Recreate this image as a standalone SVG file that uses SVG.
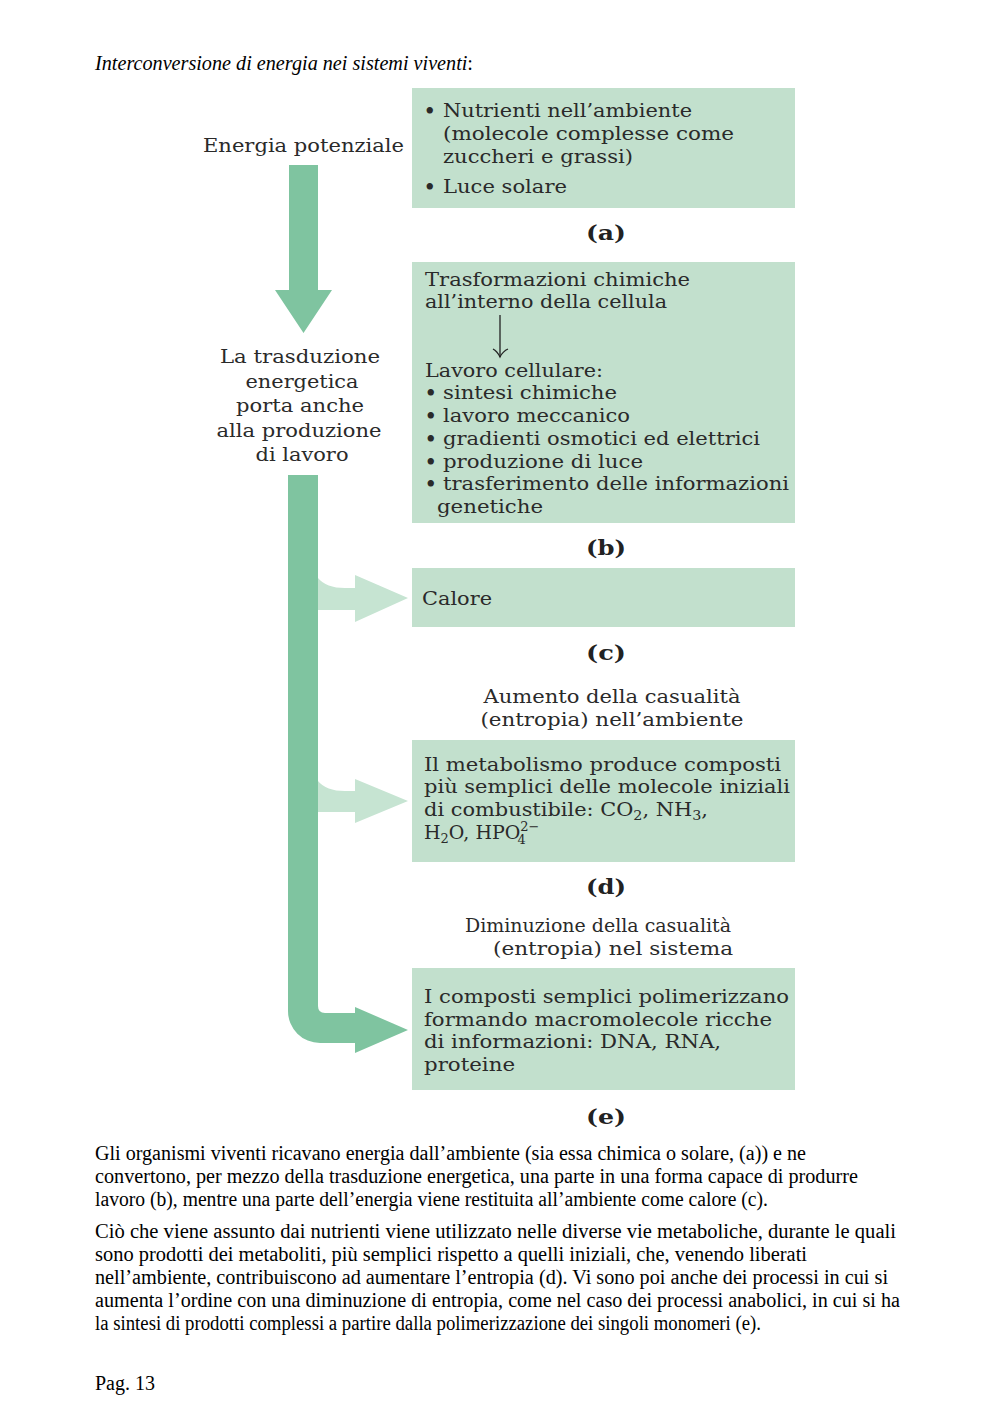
<svg xmlns="http://www.w3.org/2000/svg" width="1000" height="1415" viewBox="0 0 1000 1415">
<style>
.box{fill:#c2e0cd}
.dark{fill:#7fc4a0}
.light{fill:#c6e4d2}
.fig{font-family:"DejaVu Serif","Liberation Serif",serif;font-size:19px;fill:#2a2a2a}
.bul{font-family:"DejaVu Serif","Liberation Serif",serif;font-size:18px;font-weight:bold;fill:#2a2a2a}
.lab{font-family:"DejaVu Serif","Liberation Serif",serif;font-size:21px;font-weight:bold;fill:#222;text-anchor:middle}
.mid{text-anchor:middle}
.body{font-family:"Liberation Serif","Times New Roman",serif;font-size:20px;fill:#000}
</style>
<rect width="1000" height="1415" fill="#fff"/>

<text class="body" x="95" y="70" textLength="378" lengthAdjust="spacingAndGlyphs"><tspan font-style="italic">Interconversione di energia nei sistemi viventi</tspan>:</text>

<g id="energia-potenziale">
<text class="fig" x="203" y="152" textLength="201" lengthAdjust="spacingAndGlyphs">Energia potenziale</text>
</g>

<g id="trasduzione">
<text class="fig mid" x="300" y="363" textLength="160" lengthAdjust="spacingAndGlyphs">La trasduzione</text>
<text class="fig mid" x="302" y="388" textLength="113" lengthAdjust="spacingAndGlyphs">energetica</text>
<text class="fig mid" x="300" y="412" textLength="128" lengthAdjust="spacingAndGlyphs">porta anche</text>
<text class="fig mid" x="299" y="437" textLength="165" lengthAdjust="spacingAndGlyphs">alla produzione</text>
<text class="fig mid" x="302" y="461" textLength="93" lengthAdjust="spacingAndGlyphs">di lavoro</text>
</g>

<g id="node-a">
<rect class="box" x="412" y="88" width="383" height="120"/>
<text class="bul" x="424" y="117">•</text>
<text class="fig" x="443" y="117" textLength="249" lengthAdjust="spacingAndGlyphs">Nutrienti nell’ambiente</text>
<text class="fig" x="443" y="140" textLength="291" lengthAdjust="spacingAndGlyphs">(molecole complesse come</text>
<text class="fig" x="443" y="163" textLength="190" lengthAdjust="spacingAndGlyphs">zuccheri e grassi)</text>
<text class="bul" x="424" y="193">•</text>
<text class="fig" x="443" y="193" textLength="124" lengthAdjust="spacingAndGlyphs">Luce solare</text>
<text class="lab" x="606" y="240" textLength="40" lengthAdjust="spacingAndGlyphs">(a)</text>
</g>

<g id="node-b">
<rect class="box" x="412" y="262" width="383" height="261"/>
<text class="fig" x="425" y="286" textLength="265" lengthAdjust="spacingAndGlyphs">Trasformazioni chimiche</text>
<text class="fig" x="425" y="308" textLength="242" lengthAdjust="spacingAndGlyphs">all’interno della cellula</text>
<text class="fig" x="425" y="377" textLength="178" lengthAdjust="spacingAndGlyphs">Lavoro cellulare:</text>
<text class="bul" x="425" y="399">•</text>
<text class="fig" x="443" y="399" textLength="174" lengthAdjust="spacingAndGlyphs">sintesi chimiche</text>
<text class="bul" x="425" y="422">•</text>
<text class="fig" x="443" y="422" textLength="187" lengthAdjust="spacingAndGlyphs">lavoro meccanico</text>
<text class="bul" x="425" y="445">•</text>
<text class="fig" x="443" y="445" textLength="317" lengthAdjust="spacingAndGlyphs">gradienti osmotici ed elettrici</text>
<text class="bul" x="425" y="468">•</text>
<text class="fig" x="443" y="468" textLength="200" lengthAdjust="spacingAndGlyphs">produzione di luce</text>
<text class="bul" x="425" y="490">•</text>
<text class="fig" x="443" y="490" textLength="346" lengthAdjust="spacingAndGlyphs">trasferimento delle informazioni</text>
<text class="fig" x="437" y="513" textLength="106" lengthAdjust="spacingAndGlyphs">genetiche</text>
<text class="lab" x="606" y="555" textLength="40" lengthAdjust="spacingAndGlyphs">(b)</text>
</g>

<g id="node-c">
<rect class="box" x="412" y="568" width="383" height="59"/>
<text class="fig" x="422" y="605" textLength="70" lengthAdjust="spacingAndGlyphs">Calore</text>
<text class="lab" x="606" y="660" textLength="40" lengthAdjust="spacingAndGlyphs">(c)</text>
<text class="fig mid" x="612" y="703" textLength="257" lengthAdjust="spacingAndGlyphs">Aumento della casualità</text>
<text class="fig mid" x="612" y="726" textLength="263" lengthAdjust="spacingAndGlyphs">(entropia) nell’ambiente</text>
</g>

<g id="node-d">
<rect class="box" x="412" y="740" width="383" height="122"/>
<text class="fig" x="424" y="771" textLength="357" lengthAdjust="spacingAndGlyphs">Il metabolismo produce composti</text>
<text class="fig" x="424" y="793" textLength="366" lengthAdjust="spacingAndGlyphs">più semplici delle molecole iniziali</text>
<text class="fig" x="424" y="816" textLength="284" lengthAdjust="spacingAndGlyphs">di combustibile: CO<tspan font-size="13" dy="4">2</tspan><tspan dy="-4">, NH</tspan><tspan font-size="13" dy="4">3</tspan><tspan dy="-4">,</tspan></text>
<text class="fig" x="424" y="839">H<tspan font-size="13" dy="4">2</tspan><tspan dy="-4">O, HPO</tspan><tspan font-size="13" dy="-8">2−</tspan><tspan font-size="13" dx="-22" dy="13">4</tspan></text>
<text class="lab" x="606" y="894" textLength="40" lengthAdjust="spacingAndGlyphs">(d)</text>
<text class="fig mid" x="598" y="932" textLength="266" lengthAdjust="spacingAndGlyphs">Diminuzione della casualità</text>
<text class="fig mid" x="613" y="955" textLength="240" lengthAdjust="spacingAndGlyphs">(entropia) nel sistema</text>
</g>

<g id="node-e">
<rect class="box" x="412" y="968" width="383" height="122"/>
<text class="fig" x="424" y="1003" textLength="365" lengthAdjust="spacingAndGlyphs">I composti semplici polimerizzano</text>
<text class="fig" x="424" y="1026" textLength="348" lengthAdjust="spacingAndGlyphs">formando macromolecole ricche</text>
<text class="fig" x="424" y="1048" textLength="297" lengthAdjust="spacingAndGlyphs">di informazioni: DNA, RNA,</text>
<text class="fig" x="424" y="1071" textLength="91" lengthAdjust="spacingAndGlyphs">proteine</text>
<text class="lab" x="606" y="1124" textLength="40" lengthAdjust="spacingAndGlyphs">(e)</text>
</g>

<g id="connectors">
<path class="dark" d="M289,165 H318 V290 H332 L303.5,333 L275,290 H289 Z"/>
<path class="dark" d="M288,475 H318 V1006 Q318,1013 325,1013 H355 V1007 L408,1030 L355,1053 V1043 H320 A32,32 0 0 1 288,1011 Z"/>
<path class="light" d="M318,578 Q326,588 345,588 H355 V575 L408,598 L355,622 V610 H318 Z"/>
<path class="light" d="M318,781 Q326,791 345,791 H355 V779 L408,801 L355,823 V812 H318 Z"/>
<path d="M500,315 V357" fill="none" stroke="#222" stroke-width="1.3"/>
<path d="M493,349 Q497,351 500,357 Q503,351 508,349" fill="none" stroke="#222" stroke-width="1.3"/>
</g>

<g id="paragraphs">
<text class="body" x="95" y="1160" textLength="711" lengthAdjust="spacingAndGlyphs">Gli organismi viventi ricavano energia dall’ambiente (sia essa chimica o solare, (a)) e ne</text>
<text class="body" x="95" y="1183" textLength="763" lengthAdjust="spacingAndGlyphs">convertono, per mezzo della trasduzione energetica, una parte in una forma capace di produrre</text>
<text class="body" x="95" y="1206" textLength="673" lengthAdjust="spacingAndGlyphs">lavoro (b), mentre una parte dell’energia viene restituita all’ambiente come calore (c).</text>
<text class="body" x="95" y="1238" textLength="801" lengthAdjust="spacingAndGlyphs">Ciò che viene assunto dai nutrienti viene utilizzato nelle diverse vie metaboliche, durante le quali</text>
<text class="body" x="95" y="1261" textLength="712" lengthAdjust="spacingAndGlyphs">sono prodotti dei metaboliti, più semplici rispetto a quelli iniziali, che, venendo liberati</text>
<text class="body" x="95" y="1284" textLength="793" lengthAdjust="spacingAndGlyphs">nell’ambiente, contribuiscono ad aumentare l’entropia (d). Vi sono poi anche dei processi in cui si</text>
<text class="body" x="95" y="1307" textLength="805" lengthAdjust="spacingAndGlyphs">aumenta l’ordine con una diminuzione di entropia, come nel caso dei processi anabolici, in cui si ha</text>
<text class="body" x="95" y="1330" textLength="666" lengthAdjust="spacingAndGlyphs">la sintesi di prodotti complessi a partire dalla polimerizzazione dei singoli monomeri (e).</text>
<text class="body" x="95" y="1390" textLength="60" lengthAdjust="spacingAndGlyphs">Pag. 13</text>
</g>
</svg>
